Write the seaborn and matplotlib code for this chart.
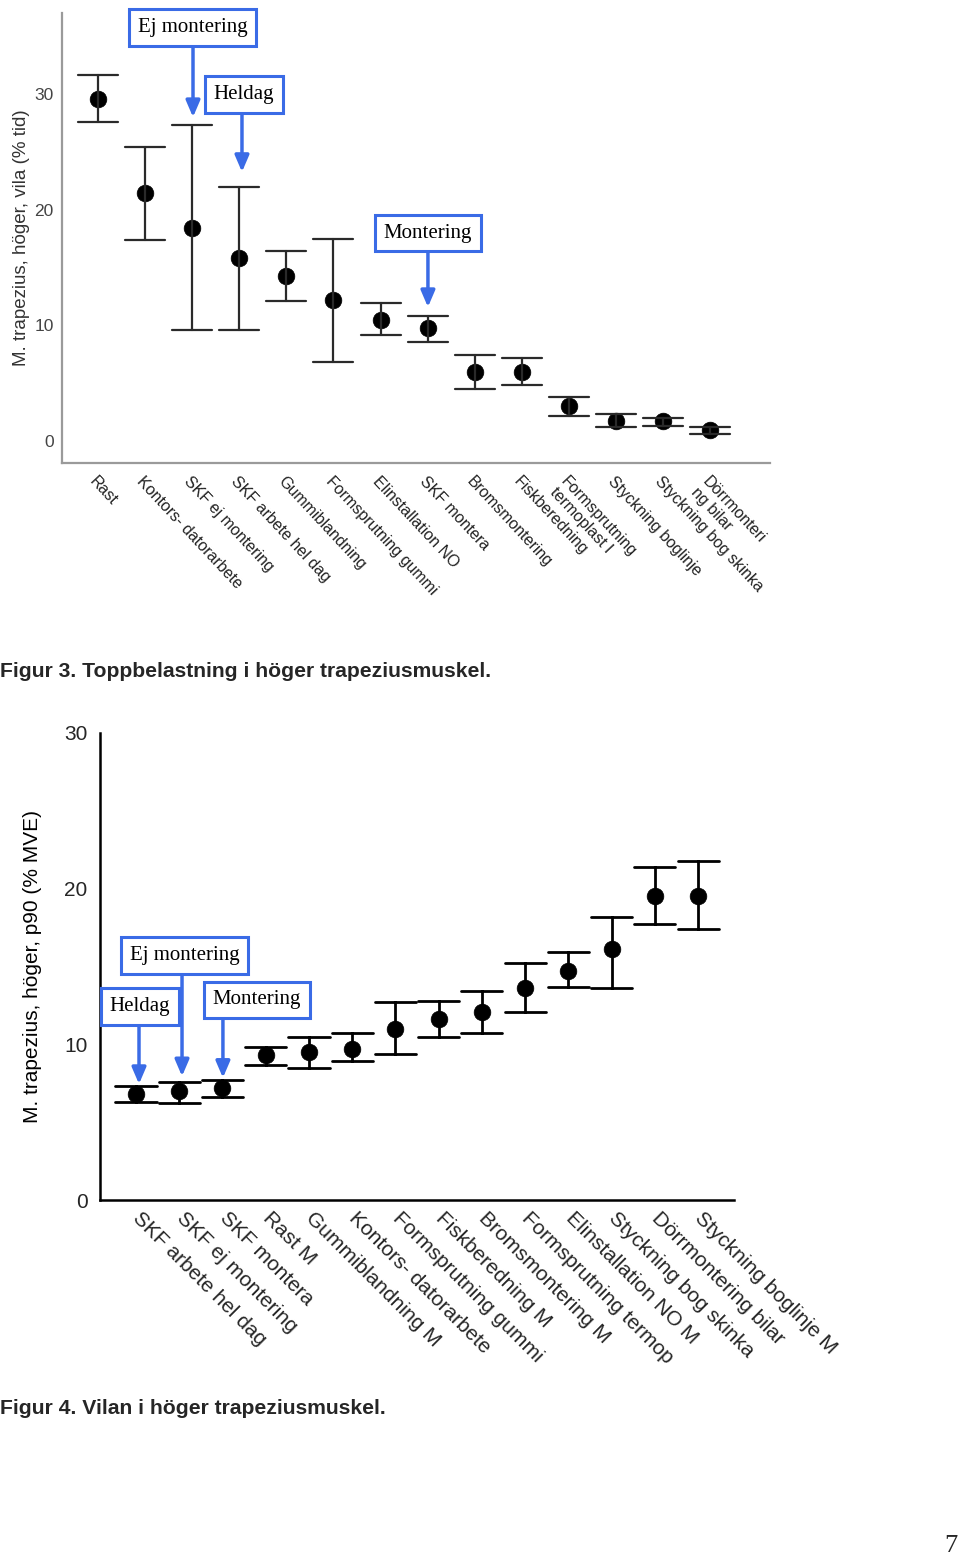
import numpy as np
import pandas as pd
import matplotlib
matplotlib.use("Agg")
import matplotlib.pyplot as plt
import seaborn as sns

# ---------------- Data: Figur 3 (top) ----------------
cats3 = ["Rast", "Kontors- datorarbete", "SKF ej montering", "SKF arbete hel dag",
         "Gummiblandning", "Formsprutning gummi", "Elinstallation NO", "SKF montera",
         "Bromsmontering", "Fiskberedning", "Formsprutning\ntermoplast l",
         "Styckning boglinje", "Styckning bog skinka", "Dörrmonteri\nng bilar"]
mean3 = [29.6, 21.4, 18.4, 15.8, 14.3, 12.2, 10.5, 9.8, 6.0, 6.0, 3.0, 1.7, 1.7, 0.95]
low3 = [27.6, 17.4, 9.6, 9.6, 12.1, 6.8, 9.2, 8.6, 4.5, 4.8, 2.2, 1.2, 1.3, 0.6]
high3 = [31.6, 25.4, 27.3, 22.0, 16.4, 17.5, 11.9, 10.8, 7.4, 7.2, 3.8, 2.3, 2.0, 1.2]
yticks3 = [0, 10, 20, 30]
ylabel3 = "M. trapezius, höger, vila (% tid)"
caption3 = "Figur 3. Toppbelastning i höger trapeziusmuskel."

# ---------------- Data: Figur 4 (bottom) ----------------
cats4 = ["SKF arbete hel dag", "SKF ej montering", "SKF montera", "Rast M",
         "Gummiblandning M", "Kontors- datorarbete", "Formsprutning gummi",
         "Fiskberedning M", "Bromsmontering M", "Formsprutning termop",
         "Elinstallation NO M", "Styckning bog skinka", "Dörrmontering bilar",
         "Styckning boglinje M"]
mean4 = [6.8, 7.0, 7.2, 9.3, 9.5, 9.7, 11.0, 11.6, 12.1, 13.6, 14.7, 16.1, 19.5, 19.5]
low4 = [6.3, 6.2, 6.6, 8.7, 8.5, 8.9, 9.4, 10.5, 10.7, 12.1, 13.7, 13.6, 17.7, 17.4]
high4 = [7.3, 7.6, 7.7, 9.8, 10.5, 10.7, 12.7, 12.8, 13.4, 15.2, 15.9, 18.2, 21.4, 21.8]
yticks4 = [0, 10, 20, 30]
ylabel4 = "M. trapezius, höger, p90 (% MVE)"
caption4 = "Figur 4. Vilan i höger trapeziusmuskel."

page_number = "7"
BLUE = "#3a6be6"

sns.set_style("white")
plt.rcParams["font.family"] = ["Liberation Sans", "DejaVu Sans"]


def long_table(cats, lo, mid, hi):
    return pd.DataFrame({"cat": np.repeat(cats, 3),
                         "val": np.column_stack([lo, mid, hi]).ravel()})


def minmax(v):
    return (np.min(v), np.max(v))


def callout(ax, text, box_xy, tail_xy, tip_xy):
    ax.text(box_xy[0], box_xy[1], text, ha="center", va="center",
            fontsize=15, family=["Liberation Serif", "DejaVu Serif"], color="black",
            bbox=dict(boxstyle="square,pad=0.42", fc="white", ec=BLUE, lw=2.2),
            zorder=10, clip_on=False)
    ax.annotate("", xy=tip_xy, xytext=tail_xy, xycoords="data", textcoords="data",
                arrowprops=dict(arrowstyle="-|>,head_length=0.7,head_width=0.3",
                                color=BLUE, lw=2.5, mutation_scale=14,
                                shrinkA=0, shrinkB=0),
                zorder=9, annotation_clip=False)


W, H = 960, 1558
fig = plt.figure(figsize=(W / 100, H / 100), dpi=100)

# ---------------- Top chart ----------------
ax1 = fig.add_axes([62 / W, 1 - 463 / H, 708 / W, 450 / H])
df3 = long_table(cats3, low3, mean3, high3)
sns.pointplot(data=df3, x="cat", y="val", order=cats3, estimator="median",
              errorbar=minmax, color="black", marker="o", linestyle="none",
              capsize=0.85, err_kws={"linewidth": 1.6, "color": "#2a2a2a"},
              markersize=12, markeredgewidth=0.5, ax=ax1)
ax1.set_xlim(-0.765, 14.27)
ax1.set_ylim(-1.9, 37.0)
ax1.set_yticks(yticks3)
ax1.set_xlabel("")
ax1.set_ylabel(ylabel3, fontsize=13.5, color="#333333")
ax1.yaxis.set_label_coords(-0.045, 0.5)
for s in ["top", "right"]:
    ax1.spines[s].set_visible(False)
for s in ["left", "bottom"]:
    ax1.spines[s].set_color("#9a9a9a")
    ax1.spines[s].set_linewidth(1.6)
ax1.tick_params(axis="y", direction="out", length=5, width=1.4, color="#9a9a9a",
                labelsize=12.5, labelcolor="#444444", pad=1)
ax1.tick_params(axis="x", direction="out", length=7, width=1.4, color="#555555",
                labelsize=11.5, labelcolor="#222222", pad=1)
plt.setp(ax1.get_xticklabels(), rotation=-47, ha="left", va="top",
         rotation_mode="anchor", linespacing=1.0)

callout(ax1, "Ej montering", (2.006, 35.75), (2.017, 33.98), (2.017, 28.0))
callout(ax1, "Heldag", (3.10, 29.96), (3.057, 28.44), (3.057, 23.26))
callout(ax1, "Montering", (7.006, 17.98), (7.006, 16.43), (7.006, 11.58))

fig.text(0 / W, 1 - 672 / H, caption3, fontsize=15.2, fontweight="bold",
         ha="left", va="center")

# ---------------- Bottom chart ----------------
ax2 = fig.add_axes([100 / W, 1 - 1200 / H, 634 / W, 467 / H])
df4 = long_table(cats4, low4, mean4, high4)
sns.pointplot(data=df4, x="cat", y="val", order=cats4, estimator="median",
              errorbar=minmax, color="black", marker="o", linestyle="none",
              capsize=0.95, err_kws={"linewidth": 2.0, "color": "black"},
              markersize=12, markeredgewidth=0.5, ax=ax2)
ax2.set_xlim(-0.833, 13.83)
ax2.set_ylim(0, 30)
ax2.set_yticks(yticks4)
ax2.set_xlabel("")
ax2.set_ylabel(ylabel4, fontsize=15, color="black")
ax2.yaxis.set_label_coords(-0.0915, 0.5)
for s in ["top", "right"]:
    ax2.spines[s].set_visible(False)
for s in ["left", "bottom"]:
    ax2.spines[s].set_color("black")
    ax2.spines[s].set_linewidth(1.8)
ax2.tick_params(axis="y", direction="out", length=6, width=1.6, color="black",
                labelsize=15, pad=3)
ax2.tick_params(axis="x", direction="out", length=5, width=1.6, color="black",
                labelsize=15, pad=6)
plt.setp(ax2.get_xticklabels(), rotation=-45, ha="left", va="center",
         rotation_mode="anchor")

callout(ax2, "Ej montering", (1.13, 15.70), (1.064, 14.39), (1.064, 7.95))
callout(ax2, "Heldag", (0.093, 12.43), (0.069, 11.37), (0.069, 7.45))
callout(ax2, "Montering", (2.79, 12.85), (2.01, 11.69), (2.01, 7.85))

fig.text(0 / W, 1 - 1409 / H, caption4, fontsize=15.2, fontweight="bold",
         ha="left", va="center")

fig.text(958 / W, 1 - 1546 / H, page_number, fontsize=19,
         family=["Liberation Serif", "DejaVu Serif"], ha="right", va="center")

fig.savefig("out.png", dpi=100)
